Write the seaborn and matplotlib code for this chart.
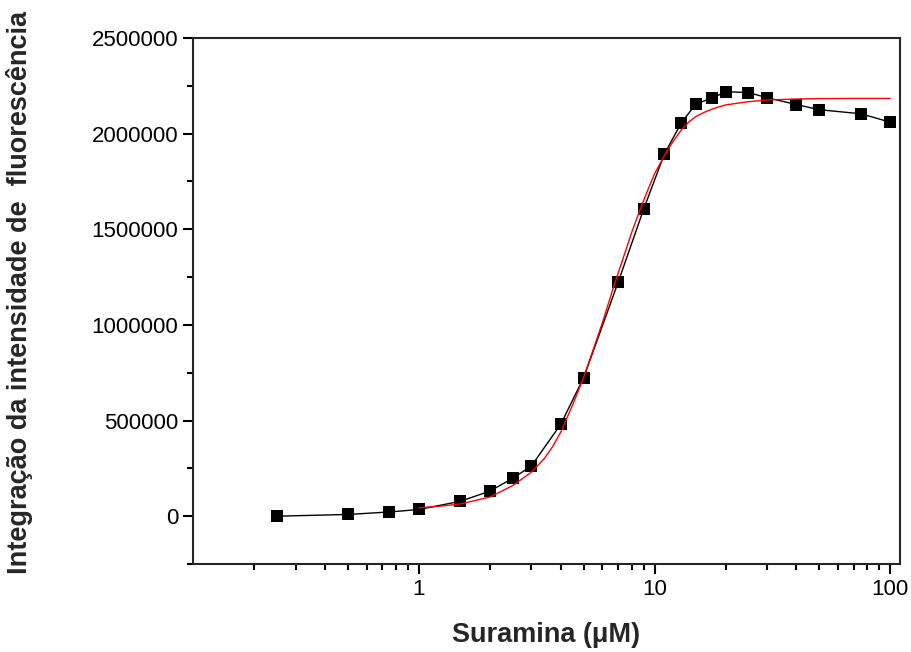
import matplotlib
matplotlib.use('Agg')
import matplotlib.pyplot as plt
import matplotlib.ticker as mticker
import seaborn as sns
import pandas as pd

# Dados experimentais
suramina = [0.25, 0.5, 0.75, 1, 1.5, 2, 2.5, 3, 4, 5, 7, 9, 11, 13, 15, 17.5, 20, 25, 30, 40, 50, 75, 100]
intensidade = [0, 9000, 22000, 35000, 78000, 131000, 198000, 262000, 481000, 724000, 1222000,
               1607000, 1893000, 2057000, 2156000, 2185000, 2219000, 2215000, 2188000, 2152000,
               2125000, 2104000, 2060000]

# Curva de ajuste
ajuste_x = [1.0, 1.25, 1.5, 2.0, 2.5, 3.0, 3.4, 3.7, 4.0, 4.5, 5.0, 6.0, 6.8, 7.5, 8.0, 8.7,
            9.5, 10, 11, 12, 13, 14, 15, 16.5, 18, 20, 25, 30, 40, 50, 70, 100]
ajuste_y = [44000, 53000, 64000, 100000, 160000, 230000, 300000, 365000, 440000, 585000,
            725000, 1010000, 1224000, 1380000, 1484000, 1607000, 1725000, 1790000, 1885000,
            1960000, 2020000, 2062000, 2090000, 2115000, 2133000, 2150000, 2167000, 2176000,
            2181000, 2183000, 2184000, 2184000]

dados = pd.DataFrame({'x': suramina, 'y': intensidade})
ajuste = pd.DataFrame({'x': ajuste_x, 'y': ajuste_y})

sns.set_style('ticks')
plt.rcParams['font.family'] = ['Liberation Sans', 'DejaVu Sans']

fig = plt.figure(figsize=(9.12, 6.52), dpi=100)
ax = fig.add_axes([193 / 912, 1 - 564 / 652, (900 - 193) / 912, (564 - 38) / 652])

sns.lineplot(data=dados, x='x', y='y', ax=ax, color='black', linewidth=1,
             marker='s', markersize=8, markeredgewidth=0, markerfacecolor='black')
sns.lineplot(data=ajuste, x='x', y='y', ax=ax, color='red', linewidth=1)

ax.set_xscale('log')
ax.set_xlim(0.11, 110)
ax.set_ylim(-250000, 2500000)
ax.xaxis.set_major_locator(mticker.FixedLocator([1, 10, 100]))
ax.xaxis.set_major_formatter(mticker.FuncFormatter(lambda v, p: f'{v:g}'))
ax.xaxis.set_minor_locator(mticker.LogLocator(base=10, subs=range(2, 10)))
ax.xaxis.set_minor_formatter(mticker.NullFormatter())
ax.yaxis.set_major_locator(mticker.MultipleLocator(500000))
ax.yaxis.set_minor_locator(mticker.MultipleLocator(250000))
ax.yaxis.set_major_formatter(mticker.FuncFormatter(lambda v, p: f'{int(v)}'))

for s in ax.spines.values():
    s.set_linewidth(1.5)
    s.set_visible(True)
ax.tick_params(which='major', length=7, width=1.5, labelsize=16, direction='out', colors='black')
ax.tick_params(which='minor', length=4, width=1.5, direction='out', colors='black')

ax.set_xlabel('Suramina (\u03bcM)', fontsize=19.5, fontweight='bold', labelpad=16)
ax.set_ylabel('Integração da intensidade de  fluorescência', fontsize=19.5, fontweight='bold')
ax.yaxis.set_label_coords(-0.226, 0.517)

fig.savefig('out.png', dpi=100)
